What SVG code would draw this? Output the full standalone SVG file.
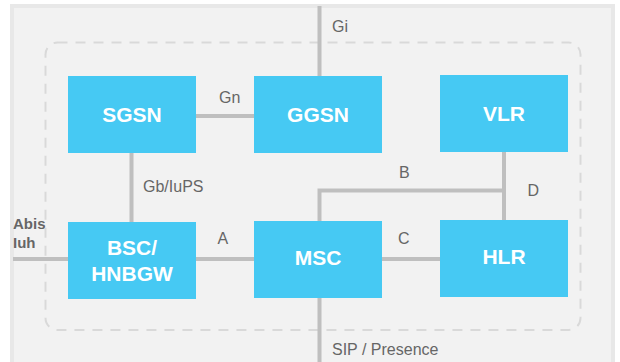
<svg xmlns="http://www.w3.org/2000/svg" width="620" height="362" viewBox="0 0 620 362">
  <style>
    .node rect { fill: #46c9f3; }
    .node text { fill: #ffffff; font-family: "Liberation Sans", Arial, sans-serif; font-size: 21px; font-weight: bold; text-anchor: middle; }
    .conn { fill: none; stroke: #bfbfbf; stroke-width: 4; }
    .lbl { fill: #666666; font-family: "Liberation Sans", Arial, sans-serif; font-size: 16px; }
    .side { fill: #666666; font-family: "Liberation Sans", Arial, sans-serif; font-size: 15px; font-weight: bold; }
  </style>

  <!-- background panel and core-network boundary -->
  <rect width="620" height="362" fill="#ffffff"/>
  <rect x="12" y="6" width="601" height="372" fill="#f2f2f2" stroke="#e8e8e8" stroke-width="4"/>
  <rect x="45.5" y="42.5" width="535" height="287.5" rx="12" fill="none" stroke="#d9d9d9" stroke-width="2" stroke-dasharray="10 8"/>

  <!-- interfaces between network elements -->
  <g id="connectors">
    <path class="conn" d="M319.5 6 V76"/>
    <path class="conn" d="M196 116 H254"/>
    <path class="conn" d="M131.5 153 V222"/>
    <path class="conn" d="M319.5 221 V190.5 H504"/>
    <path class="conn" d="M504 152 V220"/>
    <path class="conn" d="M13 259 H254"/>
    <path class="conn" d="M382 259 H440"/>
    <path class="conn" d="M319.5 298 V362"/>
  </g>

  <!-- interface labels -->
  <g id="labels">
    <text class="lbl" x="332" y="31.5">Gi</text>
    <text class="lbl" x="219" y="103">Gn</text>
    <text class="lbl" x="143" y="191.5">Gb/IuPS</text>
    <text class="lbl" x="399" y="178">B</text>
    <text class="lbl" x="527.5" y="196">D</text>
    <text class="lbl" x="217.5" y="244">A</text>
    <text class="lbl" x="398" y="244">C</text>
    <text class="lbl" x="332" y="355">SIP / Presence</text>
    <text class="side" x="13" y="229">Abis</text>
    <text class="side" x="13" y="247.5">Iuh</text>
  </g>

  <!-- network elements -->
  <g id="sgsn" class="node">
    <rect x="68" y="76" width="128" height="77"/>
    <text x="132" y="122">SGSN</text>
  </g>
  <g id="ggsn" class="node">
    <rect x="254" y="76" width="128" height="77"/>
    <text x="318" y="122">GGSN</text>
  </g>
  <g id="vlr" class="node">
    <rect x="440" y="75" width="128" height="77"/>
    <text x="504" y="121">VLR</text>
  </g>
  <g id="bsc" class="node">
    <rect x="68" y="222" width="128" height="77"/>
    <text x="132" y="255">BSC/</text>
    <text x="132" y="281">HNBGW</text>
  </g>
  <g id="msc" class="node">
    <rect x="254" y="221" width="128" height="77"/>
    <text x="318" y="265">MSC</text>
  </g>
  <g id="hlr" class="node">
    <rect x="440" y="220" width="128" height="77"/>
    <text x="504" y="264">HLR</text>
  </g>
</svg>
